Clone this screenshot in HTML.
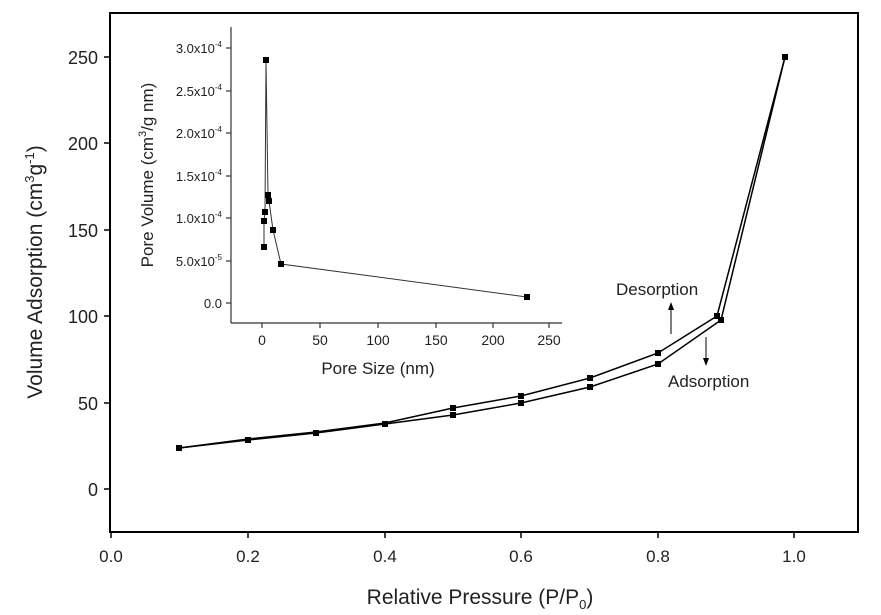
<!DOCTYPE html>
<html><head><style>body{margin:0;background:#fff}svg{display:block}</style></head><body>
<svg width="881" height="615" viewBox="0 0 881 615" xmlns="http://www.w3.org/2000/svg" font-family="Liberation Sans, sans-serif">
<rect x="110" y="13" width="748" height="519" fill="none" stroke="#000" stroke-width="2"/>
<g stroke="#000" stroke-width="1.5">
<line x1="104" y1="489" x2="110" y2="489"/><line x1="104" y1="403" x2="110" y2="403"/><line x1="104" y1="316" x2="110" y2="316"/><line x1="104" y1="230" x2="110" y2="230"/><line x1="104" y1="143" x2="110" y2="143"/><line x1="104" y1="57" x2="110" y2="57"/>
<line x1="111" y1="532" x2="111" y2="538"/><line x1="248" y1="532" x2="248" y2="538"/><line x1="385" y1="532" x2="385" y2="538"/><line x1="521" y1="532" x2="521" y2="538"/><line x1="658" y1="532" x2="658" y2="538"/><line x1="794" y1="532" x2="794" y2="538"/>
</g>
<g font-size="18" text-anchor="end" fill="#222">
<text x="98" y="496">0</text><text x="98" y="410">50</text><text x="98" y="323">100</text><text x="98" y="237">150</text><text x="98" y="150">200</text><text x="98" y="64">250</text>
</g>
<g font-size="17" text-anchor="middle" fill="#222">
<text x="111" y="562">0.0</text><text x="248" y="562">0.2</text><text x="385" y="562">0.4</text><text x="521" y="562">0.6</text><text x="658" y="562">0.8</text><text x="794" y="562">1.0</text>
</g>
<text x="480" y="604" font-size="21" text-anchor="middle" fill="#222">Relative Pressure (P/P<tspan font-size="13" dy="5">0</tspan><tspan dy="-5">)</tspan></text>
<text transform="translate(42 272) rotate(-90)" font-size="21" text-anchor="middle" fill="#222">Volume Adsorption (cm<tspan font-size="13" dy="-8">3</tspan><tspan dy="8">g</tspan><tspan font-size="13" dy="-8">-1</tspan><tspan dy="8">)</tspan></text>
<polyline fill="none" stroke="#000" stroke-width="1.5" points="179,448 248,440 316,433 385,424 453,415 521,403 590,387 658,364 721,320 785,57"/>
<polyline fill="none" stroke="#000" stroke-width="1.5" points="179,448 248,439 316,432 385,423 453,408 521,396 590,378 658,353 717,316 785,57"/>
<g fill="#000">
<rect x="176" y="445" width="6" height="6"/><rect x="245" y="437" width="6" height="6"/><rect x="313" y="430" width="6" height="6"/><rect x="382" y="421" width="6" height="6"/><rect x="450" y="412" width="6" height="6"/><rect x="518" y="400" width="6" height="6"/><rect x="587" y="384" width="6" height="6"/><rect x="655" y="361" width="6" height="6"/><rect x="718" y="317" width="6" height="6"/><rect x="782" y="54" width="6" height="6"/>
<rect x="450" y="405" width="6" height="6"/><rect x="518" y="393" width="6" height="6"/><rect x="587" y="375" width="6" height="6"/><rect x="655" y="350" width="6" height="6"/><rect x="714" y="313" width="6" height="6"/>
</g>
<line x1="671" y1="334" x2="671" y2="308" stroke="#000" stroke-width="1"/><path d="M668,310 L671,302 L674,310Z" fill="#000"/>
<line x1="706" y1="337" x2="706" y2="360" stroke="#000" stroke-width="1"/><path d="M703,358 L706,366 L709,358Z" fill="#000"/>
<text x="616" y="295" font-size="17" fill="#222">Desorption</text>
<text x="668" y="387" font-size="17" fill="#222">Adsorption</text>
<g stroke="#333" stroke-width="1.2">
<line x1="231" y1="27" x2="231" y2="323"/><line x1="231" y1="323" x2="562" y2="323"/>
<line x1="226" y1="303" x2="231" y2="303"/><line x1="226" y1="261" x2="231" y2="261"/><line x1="226" y1="218" x2="231" y2="218"/><line x1="226" y1="176" x2="231" y2="176"/><line x1="226" y1="133" x2="231" y2="133"/><line x1="226" y1="91" x2="231" y2="91"/><line x1="226" y1="48" x2="231" y2="48"/>
<line x1="262" y1="323" x2="262" y2="328"/><line x1="320" y1="323" x2="320" y2="328"/><line x1="378" y1="323" x2="378" y2="328"/><line x1="436" y1="323" x2="436" y2="328"/><line x1="493" y1="323" x2="493" y2="328"/><line x1="549" y1="323" x2="549" y2="328"/>
</g>
<g font-size="13" text-anchor="end" fill="#222">
<text x="222" y="308">0.0</text>
<text x="222" y="266">5.0x10<tspan font-size="8" dy="-6">-5</tspan></text>
<text x="222" y="223">1.0x10<tspan font-size="8" dy="-6">-4</tspan></text>
<text x="222" y="181">1.5x10<tspan font-size="8" dy="-6">-4</tspan></text>
<text x="222" y="138">2.0x10<tspan font-size="8" dy="-6">-4</tspan></text>
<text x="222" y="96">2.5x10<tspan font-size="8" dy="-6">-4</tspan></text>
<text x="222" y="53">3.0x10<tspan font-size="8" dy="-6">-4</tspan></text>
</g>
<g font-size="14" text-anchor="middle" fill="#222">
<text x="262" y="345">0</text><text x="320" y="345">50</text><text x="378" y="345">100</text><text x="436" y="345">150</text><text x="493" y="345">200</text><text x="549" y="345">250</text>
</g>
<text x="378" y="374" font-size="17" text-anchor="middle" fill="#222">Pore Size (nm)</text>
<text transform="translate(153 175) rotate(-90)" font-size="17" text-anchor="middle" fill="#222">Pore Volume (cm<tspan font-size="11" dy="-7">3</tspan><tspan dy="7">/g nm)</tspan></text>
<polyline fill="none" stroke="#333" stroke-width="1" points="264,247 264,221 265,212 266,60 268,195 269,201 273,230 281,264 527,297"/>
<g fill="#000">
<rect x="261" y="244" width="6" height="6"/><rect x="261" y="218" width="6" height="6"/><rect x="262" y="209" width="6" height="6"/><rect x="263" y="57" width="6" height="6"/><rect x="265" y="192" width="6" height="6"/><rect x="266" y="198" width="6" height="6"/><rect x="270" y="227" width="6" height="6"/><rect x="278" y="261" width="6" height="6"/><rect x="524" y="294" width="6" height="6"/>
</g>
</svg>
</body></html>
